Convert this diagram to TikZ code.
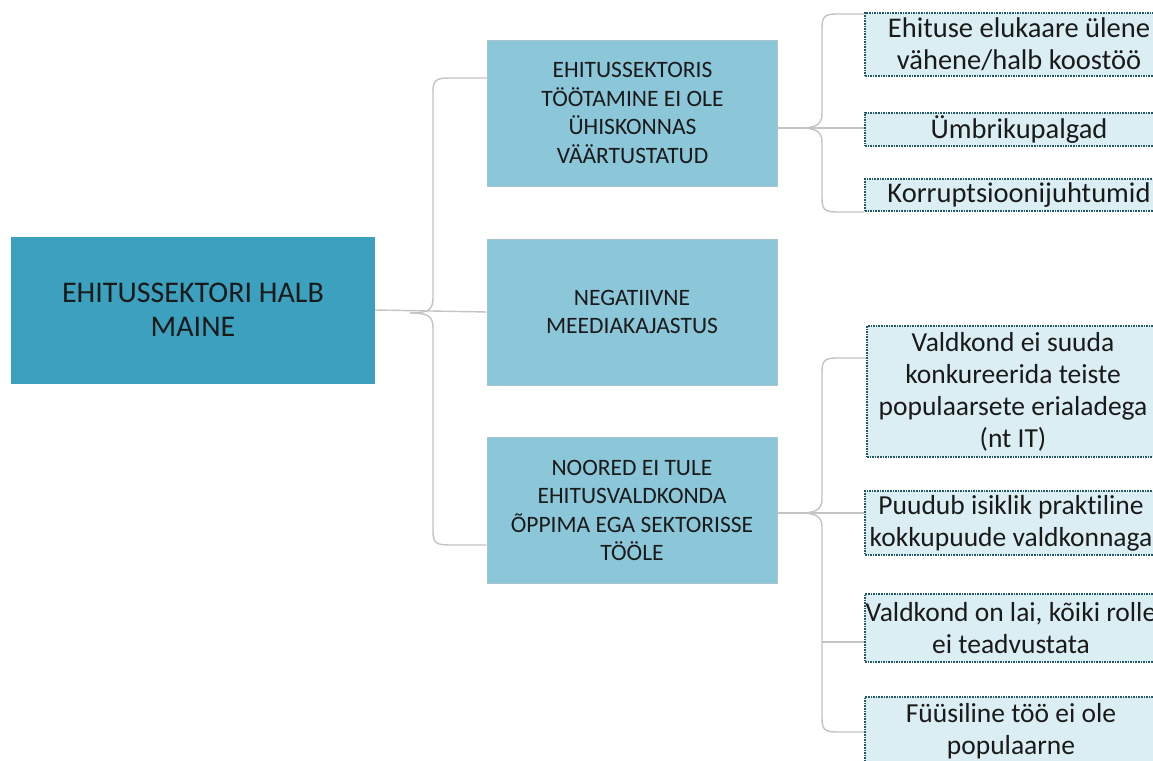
\documentclass[tikz,border=0pt]{standalone}
\usepackage{fontspec}
\setmainfont{Carlito}[Ligatures={NoCommon}]
\definecolor{rootc}{HTML}{3CA0BF}
\definecolor{midc}{HTML}{8BC7D9}
\definecolor{midborder}{HTML}{A8C3CB}
\definecolor{leafc}{HTML}{DBEEF3}
\definecolor{leafborder}{HTML}{215868}
\definecolor{conncol}{HTML}{C4C4C4}
\definecolor{txt}{HTML}{1A1A1A}
\tikzset{
  rootbox/.style={fill=rootc, minimum width=364, minimum height=147, inner sep=0,
    align=center, text=txt, font=\fontsize{30}{33.5}\selectfont},
  midbox/.style={fill=midc, draw=midborder, line width=0.8, minimum width=290,
    minimum height=146, inner sep=0, align=center, text=txt, font=\fontsize{23.5}{28.5}\selectfont},
  leafbox/.style={fill=leafc, draw=leafborder, line width=1.6, densely dotted,
    minimum width=308, inner sep=0, align=center, text=txt, font=\fontsize{28.5}{32}\selectfont},
  smallleaf/.style={leafbox, minimum width=292, font=\fontsize{27.5}{32}\selectfont},
  conn/.style={draw=conncol, line width=1.4}
}
\begin{document}
\begin{tikzpicture}[x=1pt,y=-1pt]
\clip (0,0) rectangle (1153,760);
\fill[white] (0,0) rectangle (1153,760);

% main problem
\node[rootbox] (root) at (193,310) {EHITUSSEKTORI HALB\\MAINE};

% causes
\node[midbox] (b1) at (632.5,113) {EHITUSSEKTORIS\\TÖÖTAMINE EI OLE\\ÜHISKONNAS\\VÄÄRTUSTATUD};
\node[midbox] (b2) at (632,312) {NEGATIIVNE\\MEEDIAKAJASTUS};
\node[midbox] (b3) at (632,510.5) {NOORED EI TULE\\EHITUSVALDKONDA\\ÕPPIMA EGA SEKTORISSE\\TÖÖLE};

% sub-causes
\node[leafbox, minimum height=63] (r1) at (1019,44.5) {Ehituse elukaare ülene\\vähene/halb koostöö};
\node[leafbox, minimum height=33] (r2) at (1019,129.5) {Ümbrikupalgad};
\node[leafbox, minimum height=32] (r3) at (1019,195) {Korruptsioonijuhtumid};
\node[smallleaf, minimum height=131] (r4) at (1013,391.5) {Valdkond ei suuda\\konkureerida teiste\\populaarsete erialadega\\(nt IT)};
\node[smallleaf, minimum height=64] (r5) at (1011,523) {Puudub isiklik praktiline\\kokkupuude valdkonnaga};
\node[smallleaf, minimum height=68] (r6) at (1011,628) {Valdkond on lai, kõiki rolle\\ei teadvustata};
\node[smallleaf, minimum height=68] (r7) at (1011,731) {Füüsiline töö ei ole\\populaarne};

% brace from the main problem
\coordinate (ra) at (450,78);
\coordinate (rb) at (450,545);
\draw[conn] (root.east) -- (b2.west);
\draw[conn] (b1.west |- ra) -- (ra) .. controls (436,78) and (433,80) .. (433,92)
  -- (433,298) .. controls (433,310) and (428,313) .. (410,313);
\draw[conn] (b3.west |- rb) -- (rb) .. controls (436,545) and (433,543) .. (433,531)
  -- (433,328) .. controls (433,316) and (428,313) .. (410,313);

% brace from the first cause
\coordinate (ua) at (838,14);
\coordinate (ub) at (838,212);
\coordinate (uj) at (800,128);
\draw[conn] (b1.east |- uj) -- (r2.west |- uj);
\draw[conn] (r1.west |- ua) -- (ua) .. controls (825,14) and (822,16) .. (822,28)
  -- (822,114) .. controls (822,125) and (815,128) .. (uj);
\draw[conn] (r3.west |- ub) -- (ub) .. controls (825,212) and (822,210) .. (822,198)
  -- (822,142) .. controls (822,131) and (815,128) .. (uj);

% brace from the third cause
\coordinate (la) at (838,358);
\coordinate (lb) at (838,732);
\coordinate (lc) at (838,642);
\coordinate (lj) at (800,513);
\draw[conn] (b3.east |- lj) -- (r5.west |- lj);
\draw[conn] (r4.west |- la) -- (la) .. controls (825,358) and (822,360) .. (822,372)
  -- (822,499) .. controls (822,510) and (815,513) .. (lj);
\draw[conn] (r7.west |- lb) -- (lb) .. controls (825,732) and (822,730) .. (822,718)
  -- (822,527) .. controls (822,516) and (815,513) .. (lj);
\draw[conn] (r6.west |- lc) -- (822,642);
\end{tikzpicture}
\end{document}
